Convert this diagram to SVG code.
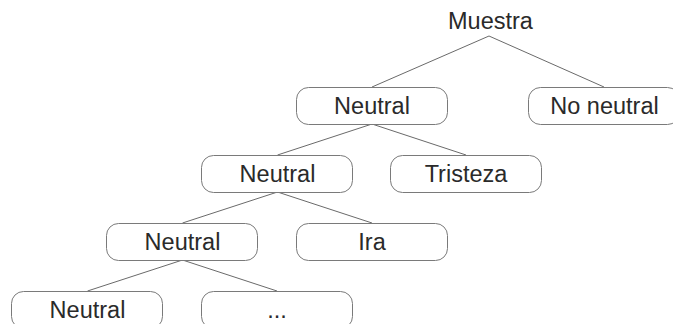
<svg xmlns="http://www.w3.org/2000/svg" width="673" height="324" viewBox="0 0 673 324">
<style>
.box{fill:#fff;stroke:#7a7a7a;stroke-width:1}
.t{font-family:"Liberation Sans",Arial,sans-serif;font-size:23.5px;fill:#2a2a2a;text-anchor:middle}
.c{stroke:#6a6a6a;stroke-width:1;fill:none}
</style>
<rect width="673" height="324" fill="#fff"/>
<g id="connectors">
<line class="c" x1="489" y1="36" x2="372" y2="87"/>
<line class="c" x1="489" y1="36" x2="604" y2="87"/>
<line class="c" x1="372" y1="124" x2="277.5" y2="155"/>
<line class="c" x1="372" y1="124" x2="466" y2="155"/>
<line class="c" x1="277.5" y1="192" x2="182.5" y2="223"/>
<line class="c" x1="277.5" y1="192" x2="372" y2="223"/>
<line class="c" x1="182.5" y1="260" x2="87.5" y2="291"/>
<line class="c" x1="182.5" y1="260" x2="277" y2="291"/>
</g>
<g id="muestra"><text class="t" x="490.5" y="29">Muestra</text></g>
<g id="n1"><rect class="box" x="296.5" y="87.5" width="151" height="37" rx="12"/><text class="t" x="372" y="113.5">Neutral</text></g>
<g id="noneutral"><rect class="box" x="528.5" y="87.5" width="151" height="37" rx="12"/><text class="t" x="604.5" y="113.5">No neutral</text></g>
<g id="n2"><rect class="box" x="201.5" y="155.5" width="151" height="37" rx="12"/><text class="t" x="277.5" y="182">Neutral</text></g>
<g id="tristeza"><rect class="box" x="390.5" y="155.5" width="151" height="37" rx="12"/><text class="t" x="466" y="182">Tristeza</text></g>
<g id="n3"><rect class="box" x="106.5" y="223.5" width="151" height="37" rx="12"/><text class="t" x="182.5" y="250">Neutral</text></g>
<g id="ira"><rect class="box" x="296.5" y="223.5" width="151" height="37" rx="12"/><text class="t" x="372" y="250">Ira</text></g>
<g id="n4"><rect class="box" x="11.5" y="291.5" width="151" height="37" rx="12"/><text class="t" x="87.5" y="318">Neutral</text></g>
<g id="more"><rect class="box" x="201.5" y="291.5" width="151" height="37" rx="12"/><text class="t" x="277" y="318">...</text></g>
</svg>
